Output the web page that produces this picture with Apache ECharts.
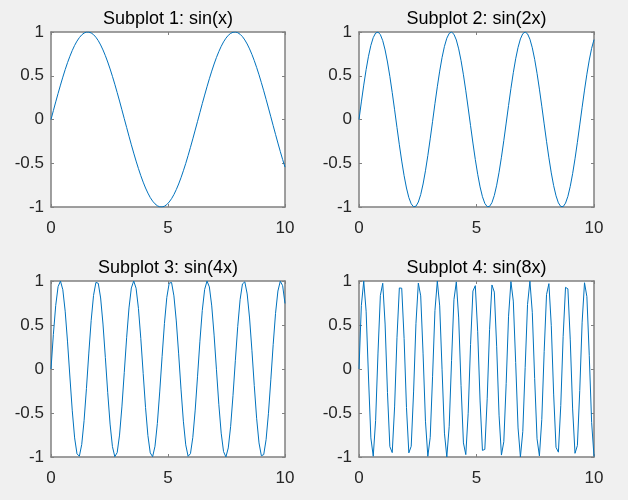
<!DOCTYPE html>
<html><head><meta charset="utf-8">
<script src="https://cdn.jsdelivr.net/npm/echarts@6/dist/echarts.min.js"></script>
<style>html,body{margin:0;padding:0;background:#f0f0f0}#c{width:628px;height:500px}</style>
</head><body><div id="c"></div><script>
const xs=[0,0.101,0.202,0.303,0.404,0.505,0.606,0.707,0.808,0.909,
1.010,1.111,1.212,1.313,1.414,1.515,1.616,1.717,1.818,1.919,
2.020,2.121,2.222,2.323,2.424,2.525,2.626,2.727,2.828,2.929,
3.030,3.131,3.232,3.333,3.434,3.535,3.636,3.737,3.838,3.939,
4.040,4.141,4.242,4.343,4.444,4.545,4.646,4.747,4.848,4.949,
5.051,5.152,5.253,5.354,5.455,5.556,5.657,5.758,5.859,5.960,
6.061,6.162,6.263,6.364,6.465,6.566,6.667,6.768,6.869,6.970,
7.071,7.172,7.273,7.374,7.475,7.576,7.677,7.778,7.879,7.980,
8.081,8.182,8.283,8.384,8.485,8.586,8.687,8.788,8.889,8.990,
9.091,9.192,9.293,9.394,9.495,9.596,9.697,9.798,9.899,10];
const sin1=[0,0.101,0.201,0.298,0.393,0.484,0.570,0.650,0.723,0.789,
0.847,0.896,0.936,0.967,0.988,0.999,0.999,0.989,0.970,0.940,
0.901,0.852,0.795,0.730,0.657,0.578,0.493,0.403,0.308,0.211,
0.111,0.010,-0.091,-0.191,-0.289,-0.384,-0.475,-0.561,-0.642,-0.716,
-0.783,-0.841,-0.892,-0.933,-0.964,-0.986,-0.998,-0.999,-0.991,-0.972,
-0.943,-0.905,-0.858,-0.801,-0.737,-0.665,-0.586,-0.502,-0.412,-0.318,
-0.221,-0.121,-0.021,0.080,0.181,0.279,0.374,0.466,0.553,0.634,
0.709,0.776,0.836,0.887,0.929,0.962,0.984,0.997,1.000,0.992,
0.974,0.947,0.909,0.863,0.807,0.744,0.673,0.595,0.511,0.421,
0.328,0.231,0.131,0.031,-0.070,-0.170,-0.269,-0.365,-0.457,-0.544];
const sin2=[0,0.201,0.393,0.570,0.723,0.847,0.936,0.988,0.999,0.970,
0.901,0.795,0.657,0.493,0.308,0.111,-0.091,-0.289,-0.475,-0.642,
-0.783,-0.892,-0.964,-0.998,-0.991,-0.943,-0.858,-0.737,-0.586,-0.412,
-0.221,-0.021,0.181,0.374,0.553,0.709,0.836,0.929,0.984,1.000,
0.974,0.909,0.807,0.673,0.511,0.328,0.131,-0.070,-0.269,-0.457,
-0.626,-0.770,-0.882,-0.959,-0.996,-0.993,-0.950,-0.868,-0.751,-0.603,
-0.431,-0.241,-0.041,0.160,0.355,0.535,0.694,0.824,0.921,0.981,
1.000,0.979,0.918,0.820,0.688,0.528,0.347,0.152,-0.050,-0.249,
-0.438,-0.610,-0.756,-0.872,-0.953,-0.994,-0.996,-0.956,-0.878,-0.764,
-0.619,-0.449,-0.261,-0.062,0.140,0.336,0.518,0.679,0.813,0.913];
const sin4=[0,0.393,0.723,0.936,0.999,0.901,0.657,0.308,-0.091,-0.475,
-0.783,-0.964,-0.991,-0.858,-0.586,-0.221,0.181,0.553,0.836,0.984,
0.974,0.807,0.511,0.131,-0.269,
-0.626,-0.882,-0.996,-0.950,-0.751,-0.431,-0.041,0.355,0.694,0.921,
1.000,0.918,0.688,0.347,-0.050,-0.438,-0.756,-0.953,-0.996,-0.878,
-0.619,-0.261,0.140,0.518,0.813,
0.976,0.983,0.831,0.546,0.172,-0.229,-0.593,-0.862,-0.992,-0.962,
-0.777,-0.467,-0.082,0.316,0.664,0.904,0.999,0.933,0.717,0.385,
-0.009,-0.401,-0.729,-0.939,-0.999,
-0.897,-0.651,-0.300,0.099,0.482,0.788,0.967,0.990,0.853,0.580,
0.213,-0.189,-0.560,-0.840,-0.986,-0.973,-0.803,-0.503,-0.123,0.277,
0.632,0.886,0.997,0.947,0.745];
const sin8=[0,0.723,0.999,0.657,-0.091,-0.783,-0.991,-0.586,0.181,0.836,
0.974,0.511,-0.269,
-0.882,-0.950,-0.431,0.355,0.921,0.918,0.347,-0.438,-0.953,-0.878,-0.261,0.518,
0.976,0.831,0.172,-0.593,-0.992,-0.777,-0.082,0.664,0.999,0.717,
-0.009,-0.729,-0.999,-0.651,0.099,0.788,0.990,0.580,-0.189,-0.840,
-0.973,-0.503,0.277,0.886,0.947,
0.423,-0.363,-0.925,-0.914,-0.339,0.446,0.955,0.874,0.252,-0.525,
-0.978,-0.826,-0.164,0.600,0.993,0.772,0.074,-0.670,-1.000,-0.711,
0.017,0.734,0.998,0.645,-0.108,
-0.793,-0.988,-0.573,0.197,0.845,0.970,0.496,-0.285,-0.890,-0.945,
-0.415,0.371,0.928,0.911,0.331,-0.454,-0.958,-0.870,-0.244,0.532,
0.980,0.822,0.155,-0.607,-0.994];
const titles=['Subplot 1: sin(x)','Subplot 2: sin(2x)','Subplot 3: sin(4x)','Subplot 4: sin(8x)'];
const xRange=[0,10], xStep=5;
const yRange=[-1,1], yStep=0.5;
const seriesY=[sin1,sin2,sin4,sin8];

const FONT="'Liberation Sans', Arial, sans-serif";
const AX='#808080';
const boxes=[{left:51,top:32,width:234,height:175},{left:359,top:32,width:235,height:175},
{left:51,top:281,width:234,height:176},{left:359,top:281,width:235,height:176}];
const grid=[],xAxis=[],yAxis=[],series=[],title=[];
boxes.forEach((b,i)=>{
  grid.push(Object.assign({show:true,backgroundColor:'#ffffff',borderWidth:0,containLabel:false},b));
  const line={show:true,onZero:false,lineStyle:{color:AX,width:1.5}};
  const tick={show:true,inside:true,length:3,lineStyle:{color:AX,width:1}};
  xAxis.push({type:'value',gridIndex:i,position:'bottom',min:xRange[0],max:xRange[1],interval:xStep,
    axisLine:line,axisTick:tick,splitLine:{show:false},
    axisLabel:{show:true,margin:13,fontSize:17,color:'#262626',fontFamily:FONT}});
  xAxis.push({type:'value',gridIndex:i,position:'top',min:xRange[0],max:xRange[1],interval:xStep,
    axisLine:line,axisTick:tick,splitLine:{show:false},axisLabel:{show:false}});
  yAxis.push({type:'value',gridIndex:i,position:'left',min:yRange[0],max:yRange[1],interval:yStep,
    axisLine:line,axisTick:tick,splitLine:{show:false},
    axisLabel:{show:true,margin:7,fontSize:17,color:'#262626',fontFamily:FONT}});
  yAxis.push({type:'value',gridIndex:i,position:'right',min:yRange[0],max:yRange[1],interval:yStep,
    axisLine:line,axisTick:tick,splitLine:{show:false},axisLabel:{show:false}});
  series.push({type:'line',xAxisIndex:2*i,yAxisIndex:2*i,showSymbol:false,symbol:'none',
    data:xs.map((x,j)=>[x,seriesY[i][j]]),lineStyle:{color:'#0072BD',width:1},z:5});
  title.push({text:titles[i],left:b.left+b.width/2,top:b.top-22,textAlign:'center',padding:0,
    textStyle:{fontSize:18,fontWeight:'normal',color:'#000',fontFamily:FONT}});
});
const chart=echarts.init(document.getElementById('c'),null,{renderer:'canvas'});
chart.setOption({backgroundColor:'#f0f0f0',animation:false,title,grid,xAxis,yAxis,series});
</script></body></html>
